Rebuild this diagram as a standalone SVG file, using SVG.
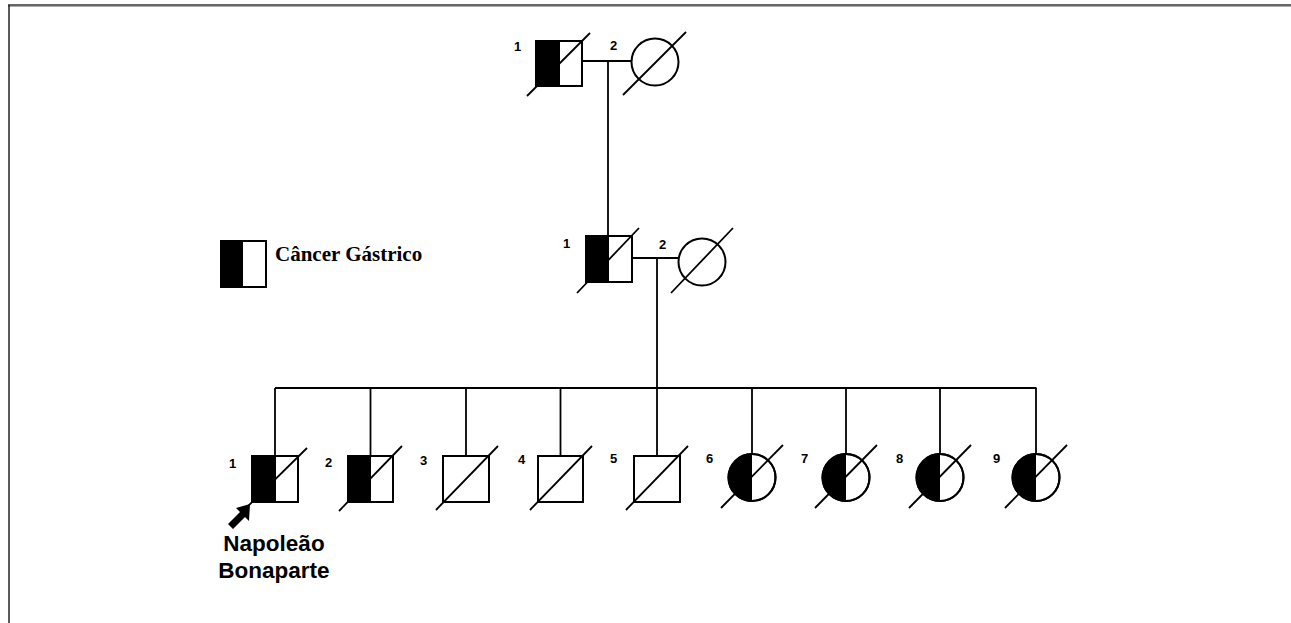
<svg xmlns="http://www.w3.org/2000/svg" width="1291" height="623" viewBox="0 0 1291 623">
<defs>
<style>
.ln{stroke:#000;stroke-width:1.8;fill:none}
.sym{stroke:#000;stroke-width:2;fill:#fff}
.blk{fill:#000;stroke:none}
.dg{stroke:#000;stroke-width:1.8}
.num{font-family:"Liberation Sans",Arial,sans-serif;font-weight:bold;font-size:13px;fill:#000}
.name{font-family:"Liberation Sans",Arial,sans-serif;font-weight:bold;font-size:22.5px;fill:#000;text-anchor:middle}
.leg{font-family:"Liberation Serif","Times New Roman",serif;font-weight:bold;font-size:21px;fill:#000}
</style>
</defs>
<rect width="1291" height="623" fill="#fff"/>
<g id="frame">
<line x1="8" y1="5" x2="1291" y2="5" stroke="#333" stroke-width="1.5"/>
<line x1="8" y1="6.5" x2="1291" y2="6.5" stroke="#aaa" stroke-width="1"/>
<line x1="9" y1="5" x2="9" y2="623" stroke="#222" stroke-width="1.5"/>
</g>
<g id="connectors">
<line class="ln" x1="582" y1="61" x2="632" y2="61"/>
<line class="ln" x1="608" y1="61" x2="608" y2="236"/>
<line class="ln" x1="632" y1="258" x2="679" y2="258"/>
<line class="ln" x1="657" y1="258" x2="657" y2="388"/>
<line class="ln" x1="275" y1="388" x2="1036.5" y2="388"/>
<line class="ln" x1="275" y1="388" x2="275" y2="456"/>
<line class="ln" x1="370.5" y1="388" x2="370.5" y2="456"/>
<line class="ln" x1="466" y1="388" x2="466" y2="456"/>
<line class="ln" x1="560.5" y1="388" x2="560.5" y2="456"/>
<line class="ln" x1="657" y1="388" x2="657" y2="456"/>
<line class="ln" x1="752" y1="388" x2="752" y2="454"/>
<line class="ln" x1="846" y1="388" x2="846" y2="454"/>
<line class="ln" x1="940" y1="388" x2="940" y2="454"/>
<line class="ln" x1="1036" y1="388" x2="1036" y2="454"/>
</g>
<g id="I-1">
<rect class="sym" x="536" y="41" width="46" height="45"/>
<rect class="blk" x="536" y="41" width="24" height="45"/>
<rect x="536" y="41" width="46" height="45" fill="none" stroke="#000" stroke-width="2"/>
<line class="dg" x1="527" y1="96" x2="590" y2="33"/>
<text class="num" x="514" y="51">1</text>
</g>
<g id="I-2">
<circle class="sym" cx="655" cy="62" r="23.5"/>
<line class="dg" x1="623" y1="95" x2="686" y2="32"/>
<text class="num" x="610" y="50">2</text>
</g>
<g id="II-1">
<rect class="sym" x="586" y="236" width="46" height="46"/>
<rect class="blk" x="586" y="236" width="23" height="46"/>
<rect x="586" y="236" width="46" height="46" fill="none" stroke="#000" stroke-width="2"/>
<line class="dg" x1="577" y1="293" x2="639" y2="228"/>
<text class="num" x="563" y="248">1</text>
</g>
<g id="II-2">
<circle class="sym" cx="702" cy="262" r="23.5"/>
<line class="dg" x1="671" y1="293" x2="733" y2="228"/>
<text class="num" x="659" y="249">2</text>
</g>
<g id="legend">
<rect class="sym" x="221" y="241" width="45" height="46"/>
<rect class="blk" x="221" y="241" width="22" height="46"/>
<rect x="221" y="241" width="45" height="46" fill="none" stroke="#000" stroke-width="2"/>
<text class="leg" x="275" y="261">Câncer Gástrico</text>
</g>
<g id="III-1">
<rect class="sym" x="252" y="456" width="46" height="46"/>
<rect class="blk" x="252" y="456" width="24" height="46"/>
<rect x="252" y="456" width="46" height="46" fill="none" stroke="#000" stroke-width="2"/>
<line class="dg" x1="243" y1="511" x2="307" y2="448"/>
<text class="num" x="229" y="468">1</text>
<polygon points="250,504 236,508 240,512 228,524 233,529 245,517 249,521" fill="#000"/>
<text class="name" x="274" y="551">Napoleão</text>
<text class="name" x="274" y="578">Bonaparte</text>
</g>
<g id="III-2">
<rect class="sym" x="348" y="456" width="45" height="46"/>
<rect class="blk" x="348" y="456" width="23" height="46"/>
<rect x="348" y="456" width="45" height="46" fill="none" stroke="#000" stroke-width="2"/>
<line class="dg" x1="339" y1="511" x2="402" y2="446"/>
<text class="num" x="325" y="467">2</text>
</g>
<g id="III-3">
<rect class="sym" x="443" y="456" width="46" height="46"/>
<line class="dg" x1="436" y1="510" x2="498" y2="446"/>
<text class="num" x="420" y="465">3</text>
</g>
<g id="III-4">
<rect class="sym" x="538" y="456" width="45" height="46"/>
<line class="dg" x1="530" y1="510" x2="592" y2="446"/>
<text class="num" x="518" y="464">4</text>
</g>
<g id="III-5">
<rect class="sym" x="634" y="456" width="46" height="46"/>
<line class="dg" x1="626" y1="510" x2="688" y2="446"/>
<text class="num" x="610" y="463">5</text>
</g>
<g id="III-6">
<circle class="sym" cx="752" cy="477.5" r="23.5"/>
<path class="blk" d="M752,454 A23.5,23.5 0 0 0 752,501 Z"/>
<circle cx="752" cy="477.5" r="23.5" fill="none" stroke="#000" stroke-width="2"/>
<line class="dg" x1="721" y1="508" x2="783" y2="445"/>
<text class="num" x="706" y="463">6</text>
</g>
<g id="III-7">
<circle class="sym" cx="846" cy="477.5" r="23.5"/>
<path class="blk" d="M846,454 A23.5,23.5 0 0 0 846,501 Z"/>
<circle cx="846" cy="477.5" r="23.5" fill="none" stroke="#000" stroke-width="2"/>
<line class="dg" x1="815" y1="508" x2="877" y2="445"/>
<text class="num" x="801" y="463">7</text>
</g>
<g id="III-8">
<circle class="sym" cx="940" cy="477.5" r="23.5"/>
<path class="blk" d="M940,454 A23.5,23.5 0 0 0 940,501 Z"/>
<circle cx="940" cy="477.5" r="23.5" fill="none" stroke="#000" stroke-width="2"/>
<line class="dg" x1="909" y1="508" x2="971" y2="445"/>
<text class="num" x="896" y="463">8</text>
</g>
<g id="III-9">
<circle class="sym" cx="1036" cy="477.5" r="23.5"/>
<path class="blk" d="M1036,454 A23.5,23.5 0 0 0 1036,501 Z"/>
<circle cx="1036" cy="477.5" r="23.5" fill="none" stroke="#000" stroke-width="2"/>
<line class="dg" x1="1005" y1="508" x2="1067" y2="445"/>
<text class="num" x="993" y="463">9</text>
</g>
</svg>
